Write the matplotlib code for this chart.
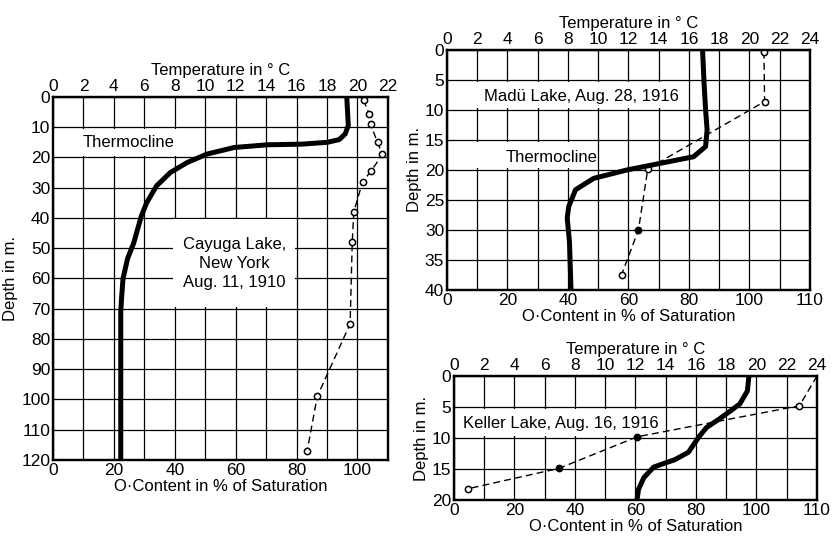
import numpy as np
import matplotlib.pyplot as plt
from matplotlib.patches import Rectangle

plt.rcParams['font.family'] = ['Liberation Sans', 'DejaVu Sans']
plt.rcParams['font.size'] = 12
plt.rcParams['xtick.labelsize'] = 12.5
plt.rcParams['ytick.labelsize'] = 12.5

# Cayuga Lake, New York, Aug. 11, 1910
cay_t_depth = [0, 9.4, 12.2, 14.1, 15, 15.6, 15.8, 16.7, 18.9, 21.7, 25, 29.4, 35, 39.4, 48.3, 53.4, 60, 66.7, 71, 120]
cay_temp = [19.3, 19.4, 19.2, 18.8, 18.0, 16.3, 14.1, 11.9, 10.1, 8.8, 7.7, 6.8, 6.15, 5.8, 5.3, 4.9, 4.6, 4.5, 4.45, 4.45]
cay_o_depth = [1, 5.5, 9, 15, 19, 24.5, 28, 38, 48, 75, 99, 117]
cay_oxygen = [102, 103.8, 104.3, 106.6, 108.2, 104.5, 101.7, 98.8, 98.3, 97.6, 86.8, 83.5]
cay_marks = ['o'] * 12

# Madü Lake, Aug. 28, 1916
madu_t_depth = [0, 5.6, 10, 13.3, 16.1, 17.8, 18.9, 20, 21.4, 23.3, 26.1, 28, 32, 40]
madu_temp = [16.9, 17.0, 17.1, 17.2, 17.1, 16.3, 14.1, 11.9, 9.7, 8.5, 8.05, 7.95, 8.1, 8.2]
madu_o_depth = [0.3, 8.6, 19.8, 30, 37.5]
madu_oxygen = [104.8, 105, 66.4, 63.3, 57.7]
madu_marks = ['o', 'o', 'o', 'f', 'o']

# Keller Lake, Aug. 16, 1916
kel_t_depth = [0, 2.4, 4.5, 5.6, 7, 8.3, 9.8, 12.3, 13.5, 14.0, 14.7, 16.4, 18.3, 20]
kel_temp = [19.5, 19.4, 18.9, 18.3, 17.5, 16.7, 16.2, 15.5, 14.6, 14.0, 13.2, 12.55, 12.2, 12.1]
kel_o_depth = [0, 4.8, 9.8, 14.9, 18.2]
kel_oxygen = [120, 114.2, 60.6, 34.7, 4.5]
kel_marks = ['', 'o', 'f', 'f', 'o']

left_o_ticks = [0, 20, 40, 60, 80, 100]
right_o_ticks = [0, 20, 40, 60, 80, 100, 120]
right_o_labels = ['0', '20', '40', '60', '80', '100', '110']

fig = plt.figure(figsize=(8.35, 5.37), dpi=100)


def panel(rect, t_max, o_max, o_ticks, o_labels, depth_max, depth_step):
    ax = fig.add_axes(rect)
    ax.set_xlim(0, o_max)
    ax.set_ylim(depth_max, 0)
    ax.set_xticks(o_ticks, o_labels)
    ax.set_xticks(np.arange(0, o_max + 1, 10), minor=True)
    ax.set_yticks(np.arange(0, depth_max + 1, depth_step))
    ax.grid(True, which='both', color='black', lw=0.9)
    ax.tick_params(which='both', length=0, pad=2)
    ax.set_xlabel('O·Content in % of Saturation', labelpad=1)
    ax.set_ylabel('Depth in m.', labelpad=2)
    axt = ax.twiny()
    axt.set_xlim(0, t_max)
    axt.set_xticks(np.arange(0, t_max + 1, 2))
    axt.tick_params(length=0, pad=2)
    axt.set_xlabel('Temperature in ° C', labelpad=3)
    for a in (ax, axt):
        for s in a.spines.values():
            s.set_linewidth(1.6)
    return ax, axt


def draw(ax, axt, t_depth, temp, o_depth, oxygen, marks):
    axt.plot(temp, t_depth, color='black', lw=3.6,
             solid_joinstyle='round', zorder=3)
    ax.plot(oxygen, o_depth, color='black', lw=1.0, ls=(0, (5, 3)), zorder=3)
    for o, d, m in zip(oxygen, o_depth, marks):
        if m:
            ax.plot(o, d, 'o', ms=4.5, mew=1.1, mec='black',
                    mfc='white' if m == 'o' else 'black', zorder=4)


def label_box(ax, axt, x0, x1, y0, y1, tx, ty, text):
    # white patch in temperature/depth units, drawn under the curves
    ax.add_patch(Rectangle((x0, y0), x1 - x0, y1 - y0, fc='white', ec='none',
                           zorder=2, transform=axt.transData))
    ax.text(tx, ty, text, ha='center', va='center', linespacing=1.35,
            zorder=5, transform=axt.transData)


# left: Cayuga
ax, axt = panel([0.0635, 0.1434, 0.401, 0.676], 22, 110, left_o_ticks,
                [str(v) for v in left_o_ticks], 120, 10)
label_box(ax, axt, 0, 9, 10.5, 19.5, 4.95, 15, 'Thermocline')
label_box(ax, axt, 7.9, 15.9, 40.5, 69.5, 11.9, 55, 'Cayuga Lake,\nNew York\nAug. 11, 1910')
draw(ax, axt, cay_t_depth, cay_temp, cay_o_depth, cay_oxygen, cay_marks)

# upper right: Madü
ax, axt = panel([0.5353, 0.46, 0.4347, 0.447], 24, 120, right_o_ticks,
                right_o_labels, 40, 5)
label_box(ax, axt, 1.9, 15.7, 5.3, 9.7, 8.9, 7.7, 'Madü Lake, Aug. 28, 1916')
label_box(ax, axt, 0, 9.9, 15.3, 19.7, 6.9, 18, 'Thermocline')
draw(ax, axt, madu_t_depth, madu_temp, madu_o_depth, madu_oxygen, madu_marks)

# lower right: Keller
ax, axt = panel([0.5437, 0.0689, 0.4347, 0.2309], 24, 120, right_o_ticks,
                right_o_labels, 20, 5)
label_box(ax, axt, 0, 13.9, 5.3, 9.7, 7.05, 7.6, 'Keller Lake, Aug. 16, 1916')
draw(ax, axt, kel_t_depth, kel_temp, kel_o_depth, kel_oxygen, kel_marks)

fig.savefig('out.png', dpi=100)
